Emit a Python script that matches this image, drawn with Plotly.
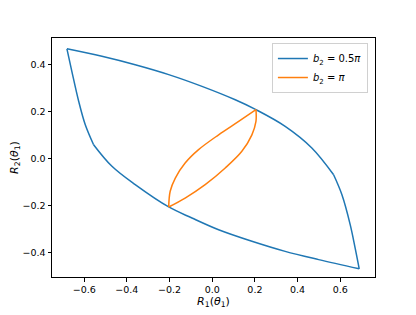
import plotly.graph_objects as go

# b2 = 0.5*pi curve, split at cusps / kinks
blue_top_x = [-0.681, -0.517, -0.361, -0.204, -0.048, 0.108, 0.205, 0.342, 0.467, 0.569]
blue_top_y = [0.466, 0.434, 0.398, 0.356, 0.306, 0.249, 0.207, 0.136, 0.044, -0.070]
blue_right_x = [0.569, 0.608, 0.647, 0.670, 0.689]
blue_right_y = [-0.070, -0.155, -0.283, -0.382, -0.470]
blue_bot_x = [0.689, 0.499, 0.342, 0.186, 0.030, -0.095, -0.204, -0.361, -0.470, -0.556]
blue_bot_y = [-0.470, -0.431, -0.396, -0.353, -0.304, -0.254, -0.207, -0.112, -0.034, 0.058]
blue_left_x = [-0.556, -0.595, -0.626, -0.658, -0.681]
blue_left_y = [0.058, 0.143, 0.243, 0.370, 0.466]

# b2 = pi curve, two arcs between cusps
orange_a_x = [0.205, 0.124, 0.030, -0.064, -0.127, -0.173, -0.197, -0.204]
orange_a_y = [0.207, 0.157, 0.100, 0.037, -0.020, -0.084, -0.140, -0.207]
orange_b_x = [-0.204, -0.127, -0.033, 0.061, 0.139, 0.186, 0.205, 0.205]
orange_b_y = [-0.207, -0.169, -0.112, -0.041, 0.030, 0.100, 0.157, 0.207]

xticks = [-0.6, -0.4, -0.2, 0.0, 0.2, 0.4, 0.6]
yticks = [-0.4, -0.2, 0.0, 0.2, 0.4]

def lab(v):
    s = f"{abs(v):.1f}"
    return ("\u2212" + s) if v < 0 else s

BLUE = "#1f77b4"
ORANGE = "#ff7f0e"

fig = go.Figure()
segs = [
    (blue_top_x, blue_top_y, BLUE, "b1", True, "<i>b</i><sub>2</sub> = 0.5<i>π</i>"),
    (blue_right_x, blue_right_y, BLUE, "b1", False, ""),
    (blue_bot_x, blue_bot_y, BLUE, "b1", False, ""),
    (blue_left_x, blue_left_y, BLUE, "b1", False, ""),
    (orange_a_x, orange_a_y, ORANGE, "b2", True, "<i>b</i><sub>2</sub> = <i>π</i>"),
    (orange_b_x, orange_b_y, ORANGE, "b2", False, ""),
]
for x, y, c, g, sl, name in segs:
    fig.add_trace(go.Scatter(x=x, y=y, mode="lines",
                             line=dict(color=c, width=1.5, shape="spline", smoothing=1),
                             legendgroup=g, showlegend=sl, name=name))

axis_common = dict(showgrid=False, zeroline=False, showline=True, linecolor="black",
                   linewidth=1, mirror=True, ticks="outside", ticklen=3.5, tickwidth=1,
                   tickcolor="black", tickfont=dict(size=9.5, color="black"),
                   automargin=False)

# page body has an 8px margin, so the figure is sized/margined to compensate
fig.update_layout(
    width=408, height=305,
    margin=dict(l=44, r=41, t=30, b=36),
    paper_bgcolor="white", plot_bgcolor="white",
    font=dict(family="DejaVu Sans", size=10, color="black"),
    xaxis=dict(range=[-0.751, 0.763], tickvals=xticks, ticktext=[lab(v) for v in xticks],
               title=dict(text="<i>R</i><sub>1</sub>(<i>θ</i><sub>1</sub>)", standoff=2,
                          font=dict(size=11)),
               **axis_common),
    yaxis=dict(range=[-0.505, 0.512], tickvals=yticks, ticktext=[lab(v) for v in yticks],
               title=dict(text="<i>R</i><sub>2</sub>(<i>θ</i><sub>1</sub>)", standoff=4,
                          font=dict(size=11)),
               **axis_common),
    legend=dict(x=0.978, y=0.979, xanchor="right", yanchor="top",
                bgcolor="rgba(255,255,255,0.8)", bordercolor="#d0d0d0", borderwidth=1,
                font=dict(size=10), tracegroupgap=0, itemwidth=30),
    showlegend=True,
)

fig.write_html("out.html")
